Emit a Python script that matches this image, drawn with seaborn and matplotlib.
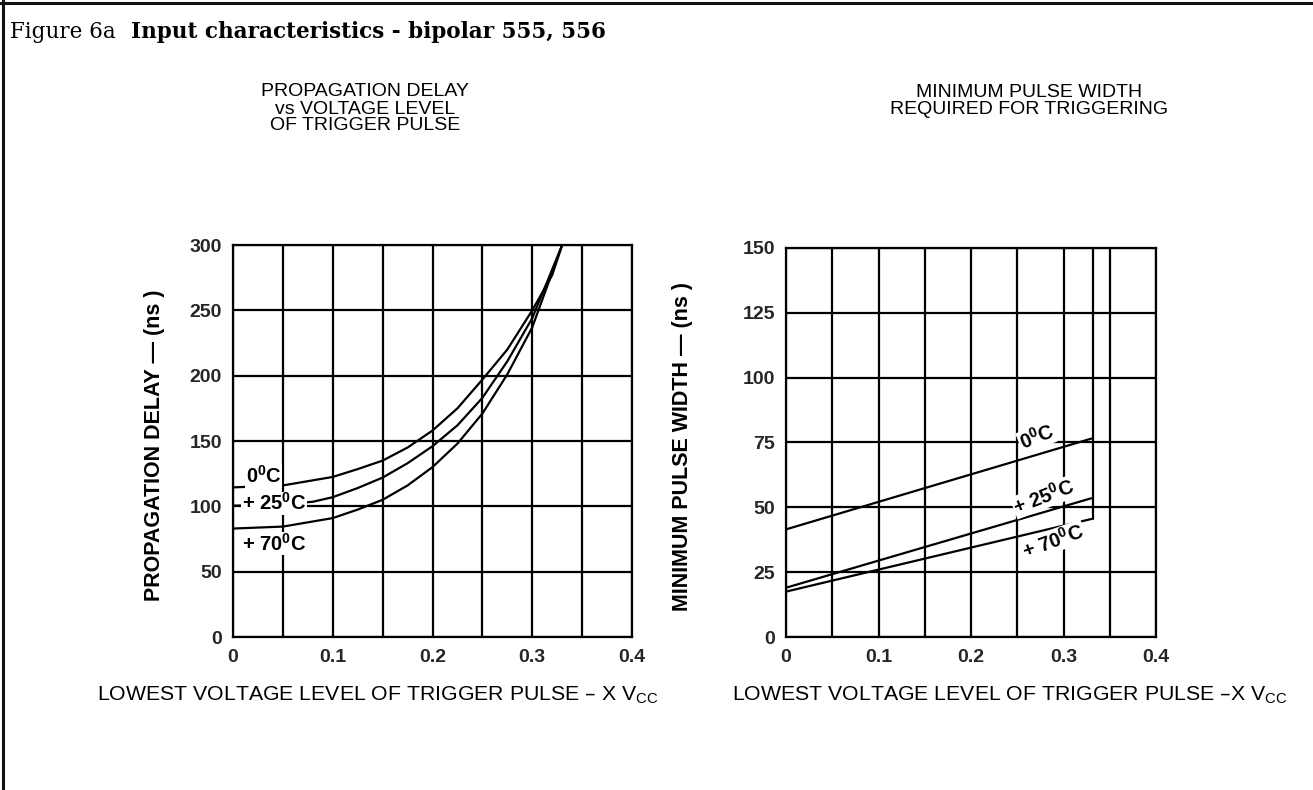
import matplotlib
matplotlib.use("Agg")
import matplotlib.pyplot as plt
from matplotlib import font_manager as fm
from matplotlib.lines import Line2D
from matplotlib.ticker import MultipleLocator
import seaborn as sns
import pandas as pd

# ---------------- data ----------------
# Left: propagation delay (ns) vs lowest trigger level (x Vcc)
pd_x_0c = [0, 0.05, 0.10, 0.125, 0.15, 0.175, 0.20, 0.225, 0.25, 0.275, 0.30, 0.32, 0.33]
pd_y_0c = [114.5, 116, 122.5, 128.5, 135, 145, 158, 175, 197, 220, 250, 277, 300]
pd_x_25c = [0, 0.05, 0.08, 0.10, 0.125, 0.15, 0.175, 0.20, 0.225, 0.25, 0.275, 0.30, 0.33]
pd_y_25c = [100.5, 101.5, 103.5, 107, 114, 122, 133, 146, 162, 183, 211, 244, 300]
pd_x_70c = [0, 0.05, 0.10, 0.125, 0.15, 0.175, 0.20, 0.225, 0.25, 0.275, 0.30, 0.33]
pd_y_70c = [83, 84.5, 91, 97.5, 105, 116, 130, 148, 171, 201, 237, 300]

# Right: minimum pulse width (ns) vs lowest trigger level (x Vcc)
pw_x = [0, 0.33]
pw_y_0c = [41.5, 76.5]
pw_y_25c = [19, 53.5]
pw_y_70c = [17.5, 45.5]
pw_limit_x = [0.332, 0.332]
pw_limit_y = [45.5, 150]

temp_labels = ["0", "+ 25", "+ 70"]
x_ticks = [0, 0.1, 0.2, 0.3, 0.4]
x_tick_labels = ["0", "0.1", "0.2", "0.3", "0.4"]
left_y_ticks = [0, 50, 100, 150, 200, 250, 300]
right_y_ticks = [0, 25, 50, 75, 100, 125, 150]

# ---------------- style ----------------
sns.set_theme(style="white")


def has_font(name):
    try:
        fm.findfont(fm.FontProperties(family=name), fallback_to_default=False)
        return True
    except Exception:
        return False


NARROW = "Liberation Sans Narrow" if has_font("Liberation Sans Narrow") else "Liberation Sans"
plt.rcParams["font.family"] = ["Liberation Sans", "DejaVu Sans"]

LW = 1.6
fig = plt.figure(figsize=(13.13, 7.90), dpi=100)
ax1 = fig.add_axes([233 / 1313, 1 - 637 / 790, 399 / 1313, 392 / 790])
ax2 = fig.add_axes([786 / 1313, 1 - 637 / 790, 370 / 1313, 389 / 790])


def line(ax, x, y):
    df = pd.DataFrame({"x": x, "y": y})
    sns.lineplot(data=df, x="x", y="y", ax=ax, color="black", lw=LW,
                 sort=False, estimator=None, zorder=3)


line(ax1, pd_x_0c, pd_y_0c)
line(ax1, pd_x_25c, pd_y_25c)
line(ax1, pd_x_70c, pd_y_70c)

line(ax2, pw_x, pw_y_0c)
line(ax2, pw_x, pw_y_25c)
line(ax2, pw_x, pw_y_70c)
line(ax2, pw_limit_x, pw_limit_y)

for ax, yt, ymax in [(ax1, left_y_ticks, 300), (ax2, right_y_ticks, 150)]:
    ax.set_xlim(0, 0.4)
    ax.set_ylim(0, ymax)
    ax.set_xticks(x_ticks)
    ax.set_xticklabels(x_tick_labels)
    ax.xaxis.set_minor_locator(MultipleLocator(0.05))
    ax.set_yticks(yt)
    ax.set_yticklabels([str(v) for v in yt])
    ax.grid(True, which="both", color="black", lw=LW, zorder=1)
    ax.set_axisbelow(True)
    ax.tick_params(which="both", length=0)
    ax.tick_params(axis="x", pad=9)
    ax.tick_params(axis="y", pad=8)
    for lab in ax.get_xticklabels() + ax.get_yticklabels():
        lab.set_fontweight("bold")
        lab.set_fontsize(14)
    for s in ax.spines.values():
        s.set_color("black")
        s.set_linewidth(LW)
    ax.set_xlabel("")
    ax.set_ylabel("")

# y labels
ax1.set_ylabel("PROPAGATION DELAY \u2014 (ns )", fontsize=15.5, fontweight="bold", color="black")
ax1.yaxis.set_label_coords(-0.17, 0.49)
ax2.set_ylabel("MINIMUM PULSE WIDTH \u2014 (ns )", fontsize=15.5, fontweight="bold", color="black")
ax2.yaxis.set_label_coords(-0.251, 0.49)

# curve labels
bbox = dict(facecolor="white", edgecolor="none", pad=0.5)
lab_kw = dict(fontsize=14.5, fontweight="bold", color="black", zorder=4, bbox=bbox)
ax1.text(0.013, 123, temp_labels[0] + "$^{\\mathregular{0}}$C", ha="left", va="center", **lab_kw)
ax1.text(0.009, 102.5, temp_labels[1] + "$^{\\mathregular{0}}$C", ha="left", va="center", **lab_kw)
ax1.text(0.009, 71.5, temp_labels[2] + "$^{\\mathregular{0}}$C", ha="left", va="center", **lab_kw)

ax2.text(0.271, 77, temp_labels[0] + "$^{\\mathregular{0}}$C", ha="center", va="center",
         rotation=22, rotation_mode="anchor", **lab_kw)
ax2.text(0.279, 54, temp_labels[1] + "$^{\\mathregular{0}}$C", ha="center", va="center",
         rotation=21, rotation_mode="anchor", **lab_kw)
ax2.text(0.289, 37, temp_labels[2] + "$^{\\mathregular{0}}$C", ha="center", va="center",
         rotation=20, rotation_mode="anchor", **lab_kw)

# subtitles
sub_kw = dict(fontsize=14, family=[NARROW, "Liberation Sans"], color="black",
              ha="center", va="center", linespacing=1.0)
fig.text(365 / 1313, 1 - 109 / 790, "PROPAGATION DELAY\nvs VOLTAGE LEVEL\nOF TRIGGER PULSE", **sub_kw)
fig.text(1029 / 1313, 1 - 101 / 790, "MINIMUM PULSE WIDTH\nREQUIRED FOR TRIGGERING", **sub_kw)

# x labels
xl_kw = dict(fontsize=15.3, family=[NARROW, "Liberation Sans"], color="black", ha="center", va="center")
fig.text(378 / 1313, 1 - 695 / 790, "LOWEST VOLTAGE LEVEL OF TRIGGER PULSE \u2013 X V$_{\\mathregular{CC}}$", **xl_kw)
fig.text(1010 / 1313, 1 - 695 / 790, "LOWEST VOLTAGE LEVEL OF TRIGGER PULSE \u2013X V$_{\\mathregular{CC}}$", **xl_kw)

# title
t1 = fig.text(10 / 1313, 1 - 32 / 790, "Figure 6a", fontsize=15.5, family=["DejaVu Serif"],
              color="black", ha="left", va="center")
fig.add_artist(plt.Annotation("  Input characteristics - bipolar 555, 556", xy=(1, 0.5),
                              xycoords=t1, va="center", ha="left", fontsize=15.5,
                              family=["DejaVu Serif"], fontweight="bold", color="black"))

# frame lines (top and left)
fig.add_artist(Line2D([0, 1], [1 - 3 / 790, 1 - 3 / 790], transform=fig.transFigure,
                      color="#111111", lw=2.2))
fig.add_artist(Line2D([3 / 1313, 3 / 1313], [0, 1], transform=fig.transFigure,
                      color="#111111", lw=2.2))

fig.savefig("out.png", dpi=100, facecolor="white")
